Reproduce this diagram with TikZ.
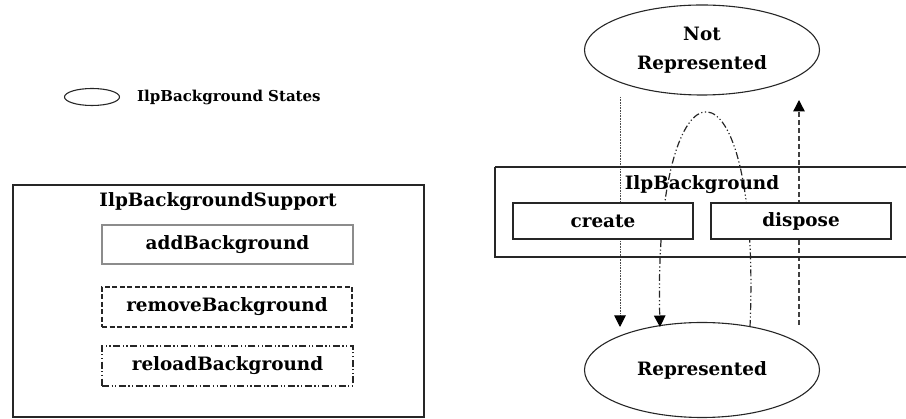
\documentclass[tikz,border=0pt]{standalone}
\usepackage{fontspec}
\setmainfont{DejaVu Serif}
\usetikzlibrary{shapes.geometric,arrows.meta}

\tikzset{
  lbl/.style={font=\bfseries\fontsize{18.4}{28}\selectfont, inner sep=0pt},
  legendtxt/.style={font=\bfseries\fontsize{15}{18}\selectfont, inner sep=0pt},
  frame/.style={draw=black!85, line width=1.7pt},
  opbox/.style={draw=black!85, line width=1.4pt, fill=white, inner sep=0pt,
    font=\bfseries\fontsize{18.4}{22}\selectfont},
  state/.style={ellipse, draw=black!85, line width=1.1pt, inner sep=0pt,
    align=center, font=\bfseries\fontsize{18.4}{29}\selectfont},
  tip/.style={-{Triangle[width=11.5pt,length=11.5pt,fill=black,color=black]}},
  dashdotdot/.style={dash pattern=on 7pt off 2.5pt on 1.2pt off 2.5pt on 1.2pt off 2.5pt},
}

\begin{document}
\begin{tikzpicture}[x=1pt, y=-1pt]
  \useasboundingbox (0,0) rectangle (906,419);

  % legend
  \node[ellipse, draw=black!85, line width=1.1pt, minimum width=55, minimum height=17,
        inner sep=0pt] (legend) at (92,97) {};
  \node[legendtxt, anchor=west] (legendlabel) at (137,97) {IlpBackground States};

  % IlpBackgroundSupport class with its three operations
  \node[frame, minimum width=411, minimum height=232, inner sep=0pt] (support) at (218.5,301) {};
  \node[lbl] (supporttitle) at (218,202) {IlpBackgroundSupport};
  \node[opbox, draw=black!45, line width=1.2pt, minimum width=251, minimum height=39] (add) at (227.5,244.5) {addBackground};
  \node[opbox, dashed, dash pattern=on 5pt off 2.5pt, line width=1.2pt, minimum width=250, minimum height=40] (remove) at (227,307) {removeBackground};
  \node[opbox, dashdotdot, line width=1.2pt, minimum width=251, minimum height=40] (reload) at (227.5,366) {reloadBackground};

  % states
  \node[state, minimum width=235, minimum height=90] (notrep) at (702,50) {Not\\Represented};
  \node[state, minimum width=235, minimum height=95] (rep) at (702,370) {Represented};

  % connector end points
  \coordinate (addstart) at (620,97);
  \coordinate (addend) at (620,327);
  \coordinate (reloadstart) at (750,327);
  \coordinate (reloadend) at (660,327);
  \coordinate (removestart) at (799,325);
  \coordinate (removeend) at (799,100);

  % transitions
  \draw[tip, black!70, line width=1pt, dash pattern=on 0.8pt off 0.8pt] (addstart) -- (addend);
  \draw[tip, black!85, line width=1.2pt, dashdotdot]
    (reloadstart) .. controls (762,42) and (653,42) .. (reloadend);
  \draw[tip, black!75, line width=1.4pt, dash pattern=on 5pt off 3pt] (removestart) -- (removeend);

  % IlpBackground class
  \draw[frame] (495,167) -- (912,167) (495,167) -- (495,257) -- (912,257);
  \node[lbl] (bgtitle) at (702,185) {IlpBackground};
  \node[opbox, minimum width=180, minimum height=36] (create) at (603,221) {create};
  \node[opbox, minimum width=180, minimum height=36] (dispose) at (801,221) {dispose};
\end{tikzpicture}
\end{document}
